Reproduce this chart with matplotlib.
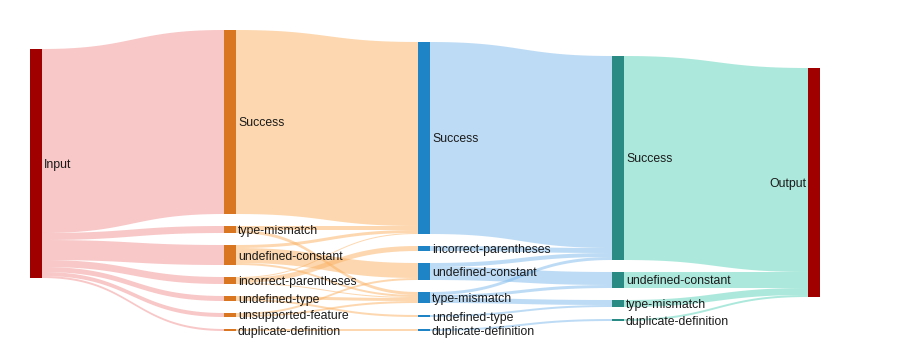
import numpy as np
import matplotlib.pyplot as plt
from matplotlib.patches import Rectangle, Polygon

# nodes of each column, top to bottom
col_input = ['Input']
col_stage1 = ['Success', 'type-mismatch', 'undefined-constant', 'incorrect-parentheses',
              'undefined-type', 'unsupported-feature', 'duplicate-definition']
col_stage2 = ['Success', 'incorrect-parentheses', 'undefined-constant', 'type-mismatch',
              'undefined-type', 'duplicate-definition']
col_stage3 = ['Success', 'undefined-constant', 'type-mismatch', 'duplicate-definition']
col_output = ['Output']

# flows (source, target, count)
flows_in_1 = [('Input', 'Success', 184), ('Input', 'type-mismatch', 7),
              ('Input', 'undefined-constant', 20), ('Input', 'incorrect-parentheses', 7),
              ('Input', 'undefined-type', 5), ('Input', 'unsupported-feature', 4),
              ('Input', 'duplicate-definition', 2)]
flows_1_2 = [('Success', 'Success', 184),
             ('type-mismatch', 'Success', 4), ('type-mismatch', 'type-mismatch', 3),
             ('undefined-constant', 'Success', 3), ('undefined-constant', 'undefined-constant', 15),
             ('undefined-constant', 'type-mismatch', 2),
             ('incorrect-parentheses', 'incorrect-parentheses', 5), ('incorrect-parentheses', 'Success', 1),
             ('incorrect-parentheses', 'type-mismatch', 1),
             ('undefined-type', 'type-mismatch', 3), ('undefined-type', 'undefined-type', 2),
             ('unsupported-feature', 'type-mismatch', 2), ('unsupported-feature', 'undefined-constant', 2),
             ('duplicate-definition', 'duplicate-definition', 2)]
flows_2_3 = [('Success', 'Success', 192),
             ('incorrect-parentheses', 'Success', 5),
             ('undefined-constant', 'Success', 4), ('undefined-constant', 'undefined-constant', 13),
             ('type-mismatch', 'Success', 3), ('type-mismatch', 'undefined-constant', 3),
             ('type-mismatch', 'type-mismatch', 5),
             ('undefined-type', 'type-mismatch', 2),
             ('duplicate-definition', 'duplicate-definition', 2)]
flows_3_out = [('Success', 'Output', 204), ('undefined-constant', 'Output', 16),
               ('type-mismatch', 'Output', 7), ('duplicate-definition', 'Output', 2)]

columns = [col_input, col_stage1, col_stage2, col_stage3, col_output]
transitions = [flows_in_1, flows_1_2, flows_2_3, flows_3_out]

node_colors = ['#a00000', '#d97621', '#1f84c6', '#2a8b85', '#a00000']
link_colors = ['#f29191', '#fbb161', '#7db9eb', '#5bd3b9']

# layout (pixels)
col_x = [30, 224, 418, 612, 808]
col_top = [49, 30, 42, 56, 68]
node_w = 12
pad = 12
scale = 1.0

# node values and positions
nodes = []
for c, names in enumerate(columns):
    inflow = {n: 0 for n in names}
    outflow = {n: 0 for n in names}
    if c > 0:
        for s, t, v in transitions[c - 1]:
            inflow[t] += v
    if c < len(transitions):
        for s, t, v in transitions[c]:
            outflow[s] += v
    y = col_top[c]
    col = {}
    for n in names:
        h = max(inflow[n], outflow[n]) * scale
        col[n] = [y, h]
        y += h + pad
    nodes.append(col)

fig = plt.figure(figsize=(9.04, 3.62), dpi=100)
ax = fig.add_axes([0, 0, 1, 1])
ax.set_xlim(0, 904)
ax.set_ylim(362, 0)
ax.axis('off')

t = np.linspace(0, 1, 60)


def bez(a, b, m0, m1):
    return (1 - t) ** 3 * a + 3 * (1 - t) ** 2 * t * m0 + 3 * (1 - t) * t ** 2 * m1 + t ** 3 * b


for c, flows in enumerate(transitions):
    src, tgt = nodes[c], nodes[c + 1]
    x0 = col_x[c] + node_w
    x1 = col_x[c + 1]
    xm = (x0 + x1) / 2
    # offsets: at source sorted by target y, at target by source y
    src_off = {n: src[n][0] for n in src}
    tgt_off = {n: tgt[n][0] for n in tgt}
    order_src = sorted(range(len(flows)), key=lambda i: (columns[c].index(flows[i][0]), tgt[flows[i][1]][0]))
    y0s = {}
    for i in order_src:
        s, tt, v = flows[i]
        y0s[i] = src_off[s]
        src_off[s] += v * scale
    order_tgt = sorted(range(len(flows)), key=lambda i: (columns[c + 1].index(flows[i][1]), src[flows[i][0]][0]))
    y1s = {}
    for i in order_tgt:
        s, tt, v = flows[i]
        y1s[i] = tgt_off[tt]
        tgt_off[tt] += v * scale
    for i, (s, tt, v) in enumerate(flows):
        h = v * scale
        xs = bez(x0, x1, xm, xm)
        top = bez(y0s[i], y1s[i], y0s[i], y1s[i])
        bot = top + h
        pts = np.concatenate([np.column_stack([xs, top]), np.column_stack([xs[::-1], bot[::-1]])])
        ax.add_patch(Polygon(pts, closed=True, facecolor=link_colors[c], edgecolor='none', alpha=0.5))

for c, col in enumerate(nodes):
    for n, (y, h) in col.items():
        ax.add_patch(Rectangle((col_x[c], y), node_w, h, facecolor=node_colors[c], edgecolor='none'))
        ty = y + h / 2 + 1.5
        if c == len(nodes) - 1:
            ax.text(col_x[c] - 2, ty, n, ha='right', va='center',
                    fontsize=8.8, family='Liberation Sans', color='#1a1a1a')
        else:
            ax.text(col_x[c] + node_w + 2, ty, n, ha='left', va='center',
                    fontsize=8.8, family='Liberation Sans', color='#1a1a1a')

fig.savefig('out.png', dpi=100)
